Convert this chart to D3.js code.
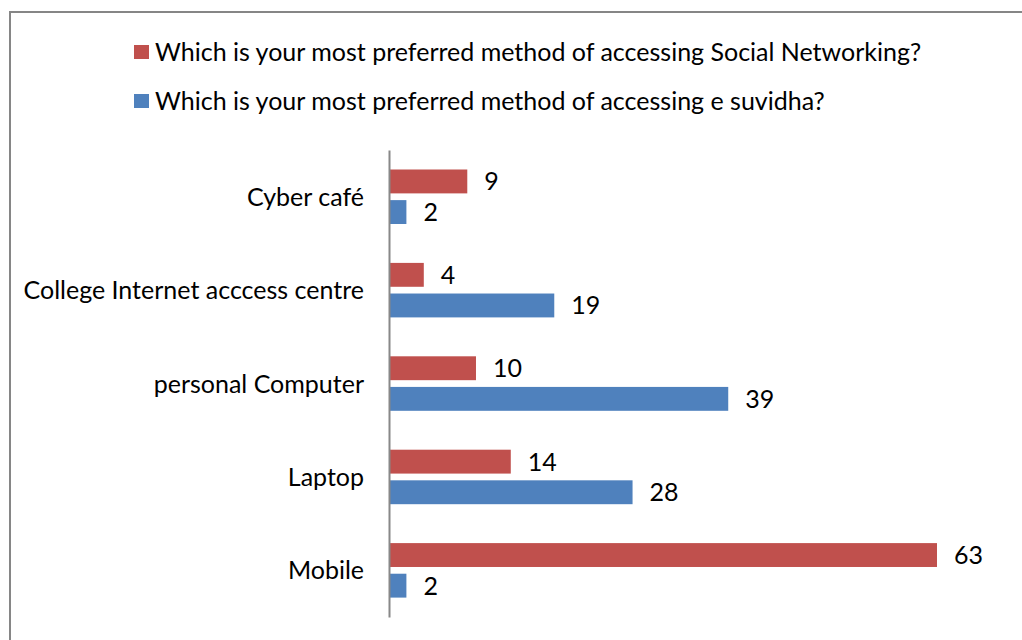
<!DOCTYPE html>
<html>
<head>
<meta charset="utf-8">
<script src="https://cdn.jsdelivr.net/npm/d3@7"></script>
<style>
  html, body { margin: 0; padding: 0; background: #fff; }
  svg { display: block; }
  text { font-family: Lato, "Noto Sans", sans-serif; fill: #000; }
</style>
</head>
<body>
<svg id="chart" width="1022" height="640"></svg>
<script>
// Survey categories, listed top to bottom
const categories = ["Cyber café", "College Internet acccess centre", "personal Computer", "Laptop", "Mobile"];
const seriesNames = [
  "Which is your most preferred method of accessing Social Networking?",
  "Which is your most preferred method of accessing e suvidha?"
];
const socialNetworking = [9, 4, 10, 14, 63];
const eSuvidha = [2, 19, 39, 28, 2];
const seriesColors = ["#C0504D", "#4F81BD"];

const svg = d3.select("#chart");
const W = 1022, H = 640;
const fontSize = 25;

// Chart frame
svg.append("rect")
  .attr("x", 10).attr("y", 12)
  .attr("width", W + 20).attr("height", H + 20)
  .attr("fill", "#fff").attr("stroke", "#868686").attr("stroke-width", 2);

const plot = { left: 389, right: 937, top: 150, bottom: 617 };

const x = d3.scaleLinear().domain([0, 63]).range([plot.left, plot.right]);
const y0 = d3.scaleBand().domain(categories).range([plot.top, plot.bottom]);
const y1 = d3.scaleBand().domain(seriesNames)
  .range([19.5, 74]).paddingInner(0.22);

const rows = categories.map((c, i) => ({
  cat: c,
  vals: [socialNetworking[i], eSuvidha[i]]
}));

const groups = svg.append("g").selectAll("g.cat")
  .data(rows).join("g")
  .attr("class", "cat")
  .attr("transform", d => `translate(0,${y0(d.cat)})`);

groups.selectAll("rect")
  .data(d => d.vals.map((v, j) => ({ v, s: seriesNames[j], j })))
  .join("rect")
  .attr("x", x(0))
  .attr("y", d => y1(d.s))
  .attr("width", d => x(d.v) - x(0))
  .attr("height", y1.bandwidth())
  .attr("fill", d => seriesColors[d.j]);

// Value labels
groups.selectAll("text.val")
  .data(d => d.vals.map((v, j) => ({ v, s: seriesNames[j], j })))
  .join("text")
  .attr("class", "val")
  .attr("x", d => x(d.v) + 17)
  .attr("y", d => y1(d.s) + y1.bandwidth() / 2)
  .attr("dy", "0.36em")
  .attr("font-size", fontSize)
  .text(d => d.v);

// Category axis
const yAxis = d3.axisLeft(y0).tickSize(0).tickPadding(25);
const ax = svg.append("g")
  .attr("transform", `translate(${plot.left},0)`)
  .call(yAxis);
ax.select(".domain").attr("stroke", "#888").attr("stroke-width", 2);
ax.selectAll(".tick text")
  .attr("font-size", fontSize)
  .attr("font-family", "Lato, 'Noto Sans', sans-serif")
  .attr("fill", "#000")
  .attr("dy", "0.36em");

// Legend
const legend = svg.append("g").selectAll("g")
  .data(seriesNames).join("g")
  .attr("transform", (d, i) => `translate(134,${45 + i * 49})`);
legend.append("rect")
  .attr("width", 15).attr("height", 14)
  .attr("fill", (d, i) => seriesColors[i]);
legend.append("text")
  .attr("x", 21).attr("y", 7)
  .attr("dy", "0.36em")
  .attr("font-size", fontSize)
  .text(d => d);
</script>
</body>
</html>
